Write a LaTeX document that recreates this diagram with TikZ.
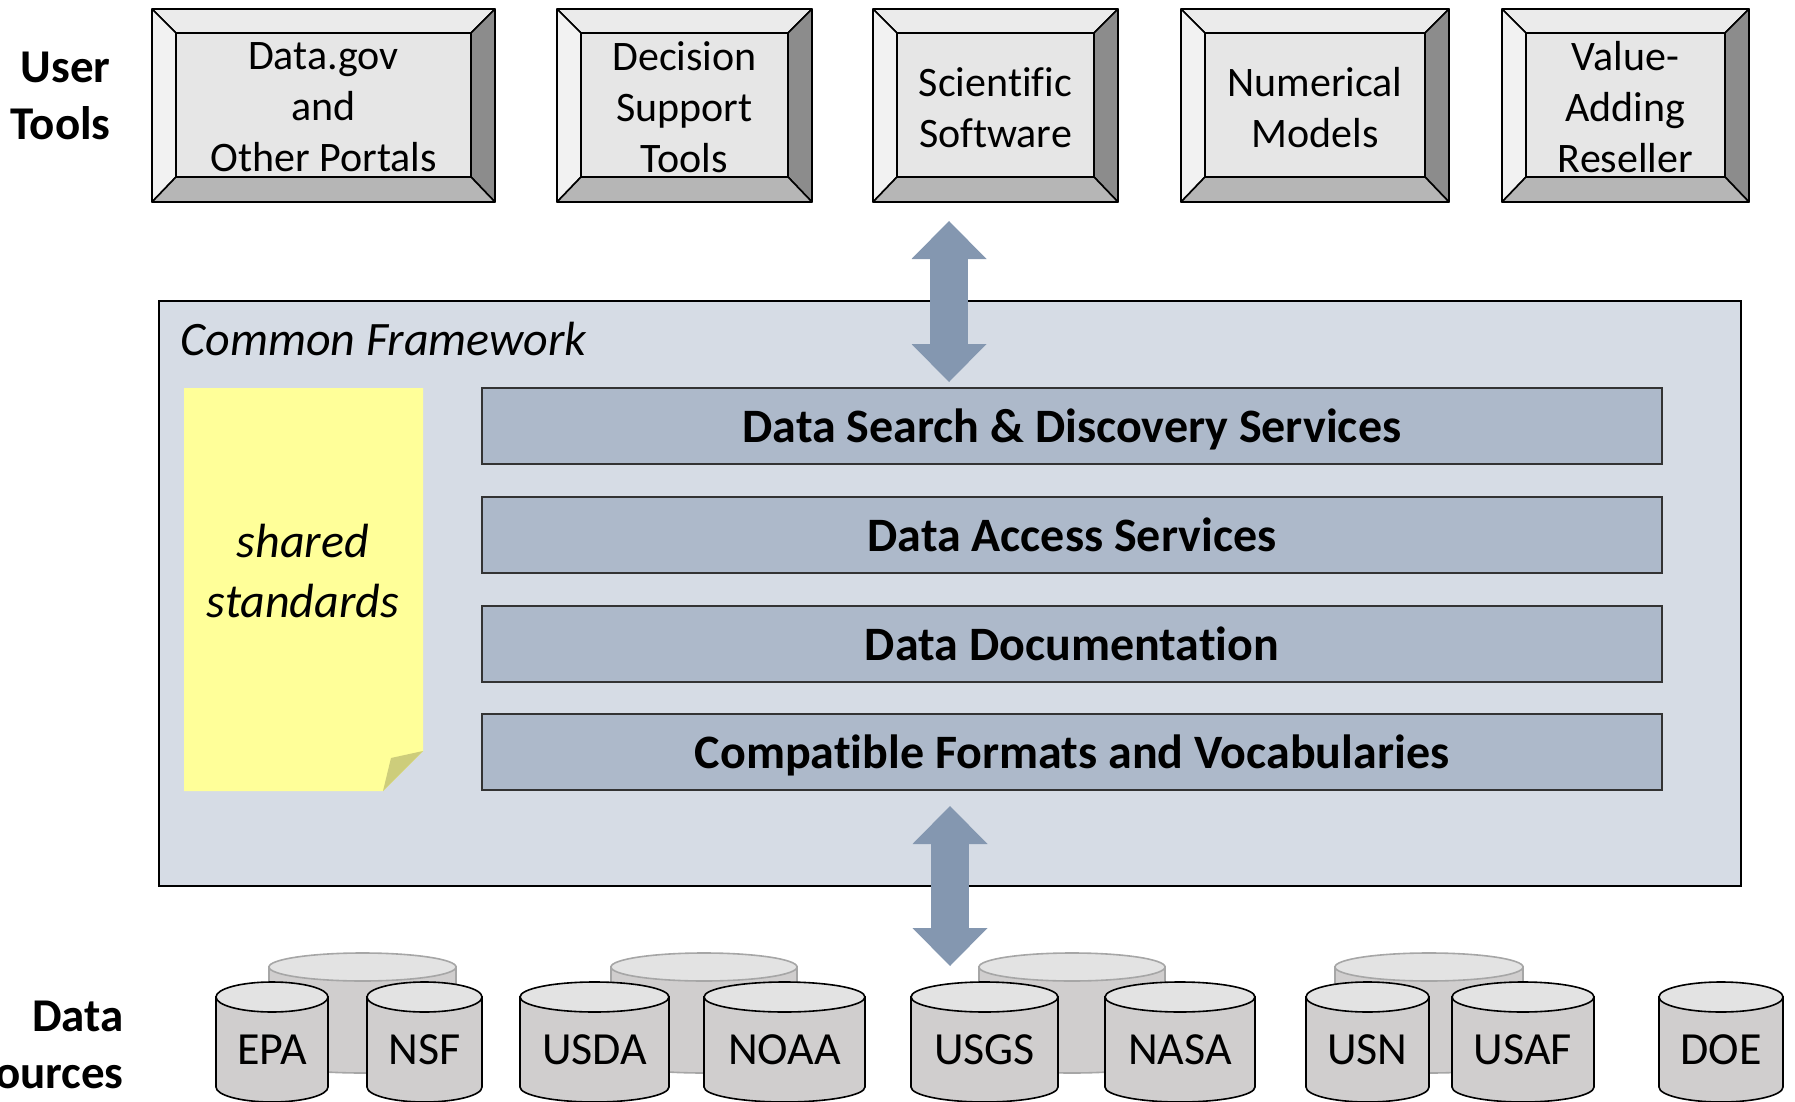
\documentclass[tikz,border=0pt]{standalone}
\usepackage{fontspec}
\setmainfont{Carlito}[Ligatures=NoCommon]
\usetikzlibrary{arrows.meta, calc}

\definecolor{bevface}{HTML}{E6E6E6}
\definecolor{bevtop}{HTML}{EBEBEB}
\definecolor{bevleft}{HTML}{F2F2F2}
\definecolor{bevright}{HTML}{8C8C8C}
\definecolor{bevbot}{HTML}{B6B6B6}
\definecolor{frameblue}{HTML}{D6DCE5}
\definecolor{layerblue}{HTML}{ADB9CA}
\definecolor{arrowblue}{HTML}{8497B0}
\definecolor{notey}{HTML}{FFFF99}
\definecolor{notefold}{HTML}{CDCD7B}
\definecolor{cylgray}{HTML}{D0CECE}
\definecolor{cyltop}{HTML}{E3E3E3}

\begin{document}
\begin{tikzpicture}[
    x=0.5pt, y=0.5pt,
    toolface/.style={rectangle, draw, line width=0.8pt, fill=bevface, minimum height=72pt, inner sep=0pt, outer sep=0pt, align=center, font=\fontsize{21pt}{25.5pt}\selectfont},
    bevelside/.style={draw, line width=0.8pt, line join=round},
    sidelabel/.style={align=right, inner sep=0pt, font=\fontsize{23.5pt}{28.5pt}\selectfont\bfseries},
    framework/.style={rectangle, draw, line width=0.8pt, fill=frameblue, minimum width=791pt, minimum height=292.5pt, inner sep=0pt},
    servicebar/.style={rectangle, draw=black!80, line width=0.8pt, fill=layerblue, minimum width=590pt, minimum height=38pt, inner sep=0pt, text depth=0pt, font=\fontsize{24pt}{29pt}\selectfont\bfseries},
    bigarrow/.style={line width=19pt, draw=arrowblue, {Triangle[width=37.5pt, length=19pt, line width=0pt]}-{Triangle[width=37.5pt, length=19pt, line width=0pt]}},
    backcyl/.style={draw=black!35, line width=0.8pt, fill=cylgray},
    frontcyl/.style={draw, line width=0.8pt, fill=cylgray},
    cyllabel/.style={inner sep=0pt, font=\fontsize{23pt}{27pt}\selectfont}
]
\useasboundingbox (0,0) rectangle (1795,-1102);

% Row labels on the left
\node[sidelabel, anchor=east] (usertools) at (111,-96) {User\\Tools};
\node[sidelabel, anchor=east] (datasources) at (124,-1045) {Data\\Sources};

% User tool boxes (bevelled)
\foreach \n/\xa/\xb/\txt in {portals/152/495/{Data.gov\\and\\Other Portals}, decision/557/812/{Decision\\Support\\Tools}, scisoft/873/1118/{Scientific\\Software}, nummodels/1181/1449/{Numerical\\Models}, reseller/1502/1749/{Value-\\Adding\\Reseller}} {
    \node[toolface, minimum width={(\xb-\xa-48)*0.5pt}] (\n) at ({(\xa+\xb)/2},-105) {};
    \node[align=center, inner sep=0pt, font=\fontsize{21pt}{25.5pt}\selectfont] (\n-text) at ({(\xa+\xb)/2},-107.5) {\txt};
    \filldraw[bevelside, fill=bevtop] (\xa,-9) -- (\xb,-9) -- (\n.north east) -- (\n.north west) -- cycle;
    \filldraw[bevelside, fill=bevleft] (\xa,-9) -- (\n.north west) -- (\n.south west) -- (\xa,-202) -- cycle;
    \filldraw[bevelside, fill=bevright] (\xb,-9) -- (\n.north east) -- (\n.south east) -- (\xb,-202) -- cycle;
    \filldraw[bevelside, fill=bevbot] (\xa,-202) -- (\n.south west) -- (\n.south east) -- (\xb,-202) -- cycle;
}

% Common framework
\node[framework] (frame) at (950,-593.5) {};
\node[anchor=base west, inner sep=0pt, font=\fontsize{24pt}{28pt}\selectfont\itshape] (frametitle) at (180,-355) {Common Framework};

% Sticky note
\fill[notey] (184,-388) -- (423,-388) -- (423,-751) -- (383,-791) -- (184,-791) -- cycle;
\fill[notefold] (423,-751) -- (391,-758) -- (383,-791) -- cycle;
\node[align=center, inner sep=0pt, font=\fontsize{24pt}{30pt}\selectfont\itshape] (standards) at (303,-571) {shared\\standards};

% Service layers
\foreach \n/\y/\txt in {search/426/{Data Search \& Discovery Services}, access/535/{Data Access Services}, docs/644/{Data Documentation}, formats/752/{Compatible Formats and Vocabularies}} {
    \node[servicebar] (\n) at (1072,-\y) {\txt};
}

% Block arrows
\coordinate (uptop) at (949,-221);
\coordinate (upbot) at (949,-382);
\draw[bigarrow] (uptop) -- (upbot);
\coordinate (lowtop) at (950,-806);
\coordinate (lowbot) at (950,-966);
\draw[bigarrow] (lowtop) -- (lowbot);

% Data sources: back cylinders
\foreach \xa/\xb in {269/456, 611/797, 979/1165, 1335/1523} {
    \filldraw[backcyl] (\xa,-967) -- (\xa,-1060) arc[start angle=180, end angle=360, x radius={(\xb-\xa)/2}, y radius=13] -- (\xb,-967) -- cycle;
    \filldraw[backcyl, fill=cyltop] ({(\xa+\xb)/2},-967) ellipse [x radius={(\xb-\xa)/2}, y radius=14];
}

% Data sources: front cylinders
\foreach \n/\xa/\xb/\txt in {epa/216/328/EPA, nsf/367/482/NSF, usda/520/669/USDA, noaa/704/865/NOAA, usgs/911/1058/USGS, nasa/1105/1255/NASA, usn/1306/1429/USN, usaf/1452/1594/USAF, doe/1659/1783/DOE} {
    \filldraw[frontcyl] (\xa,-997) -- (\xa,-1087) arc[start angle=180, end angle=360, x radius={(\xb-\xa)/2}, y radius=15] -- (\xb,-997) -- cycle;
    \filldraw[frontcyl, fill=cyltop] ({(\xa+\xb)/2},-997) ellipse [x radius={(\xb-\xa)/2}, y radius=15];
    \node[cyllabel] (\n) at ({(\xa+\xb)/2},-1050) {\txt};
}

\end{tikzpicture}
\end{document}
